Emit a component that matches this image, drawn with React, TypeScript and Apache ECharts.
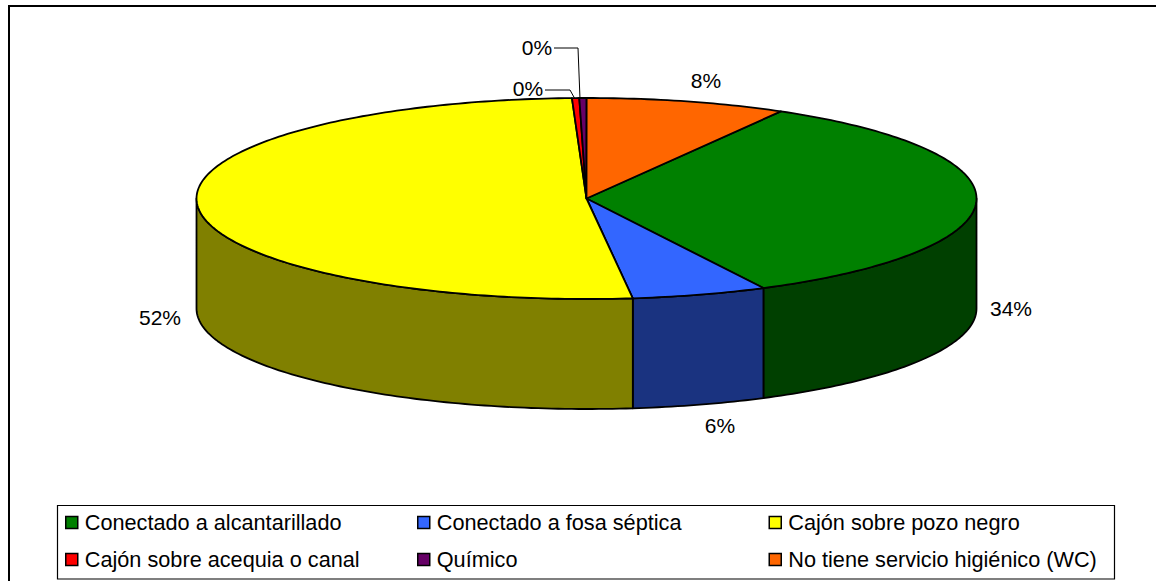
import React, { useEffect, useRef } from "react";
import * as echarts from "echarts";

const categories = [
  "Conectado a alcantarillado",
  "Conectado a fosa séptica",
  "Cajón sobre pozo negro",
  "Cajón sobre acequia o canal",
  "Químico",
  "No tiene servicio higiénico (WC)",
];
const shares = [34.2, 5.6, 51.3, 0.3, 0.3, 8.3];
const percentLabels = ["34%", "6%", "52%", "0%", "0%", "8%"];
const topColors = ["#008000", "#3366FF", "#FFFF00", "#FF0000", "#660066", "#FF6600"];
const sideColors = ["#004000", "#1A3380", "#808000", "#800000", "#330033", "#803300"];

const FAMILY = '"Liberation Sans", Arial, sans-serif';
const CX = 586.5;
const CY = 198.5;
const RX = 390;
const RY = 100.5;
const DEPTH = 110;
const FIRST_ANGLE = 29.9;

const labelSpots: number[][] = [
  [1011, 308],
  [720, 425],
  [160, 317],
  [528, 88],
  [537, 47],
  [706, 80],
];
const leaders: (number[][] | null)[] = [
  null,
  null,
  null,
  [[545, 90], [570, 90], [575, 99]],
  [[554, 48], [578, 48], [580, 99]],
  null,
];

const total = shares.reduce((a, b) => a + b, 0);

function rimPoint(deg: number, dy = 0): number[] {
  const r = (deg * Math.PI) / 180;
  return [CX + RX * Math.sin(r), CY - RY * Math.cos(r) + dy];
}

function arcPoints(a: number, b: number, dy = 0): number[][] {
  const pts: number[][] = [];
  const n = Math.max(2, Math.ceil(Math.abs(b - a)));
  for (let i = 0; i <= n; i++) pts.push(rimPoint(a + ((b - a) * i) / n, dy));
  return pts;
}

function renderSlice(index: number) {
  let start = FIRST_ANGLE;
  for (let i = 0; i < index; i++) start += (shares[i] / total) * 360;
  return (_params: any, api: any) => {
    const end = start + (api.value(0) / total) * 360;
    const children: any[] = [];
    const edge = { stroke: "#000", lineWidth: 1.8, lineJoin: "round" };
    const a = Math.max(start, 90);
    const b = Math.min(end, 270);
    if (b > a) {
      const wall = [...arcPoints(a, b), ...arcPoints(b, a, DEPTH)];
      children.push({
        type: "polygon",
        shape: { points: wall },
        style: { fill: sideColors[index], ...edge },
      });
    }
    children.push({
      type: "polygon",
      shape: { points: [[CX, CY], ...arcPoints(start, end)] },
      style: { fill: topColors[index], ...edge },
    });
    const lead = leaders[index];
    if (lead) {
      children.push({
        type: "polyline",
        shape: { points: lead },
        style: { fill: "none", stroke: "#000", lineWidth: 1 },
      });
    }
    const spot = labelSpots[index];
    children.push({
      type: "text",
      style: {
        text: percentLabels[index],
        x: spot[0],
        y: spot[1],
        align: "center",
        verticalAlign: "middle",
        fill: "#000",
        font: `21px ${FAMILY}`,
      },
    });
    return { type: "group", children };
  };
}

function legendColumn(names: string[], left: number) {
  return {
    orient: "vertical",
    left,
    top: 511.5,
    padding: 0,
    itemWidth: 12,
    itemHeight: 12,
    itemGap: 15,
    icon: "rect",
    selectedMode: false,
    data: names,
    itemStyle: { borderColor: "#000", borderWidth: 1.5 },
    textStyle: {
      fontFamily: FAMILY,
      fontSize: 21.7,
      color: "#000",
      padding: [0, 0, 0, 2],
    },
  };
}

export default function App() {
  const ref = useRef<HTMLDivElement>(null);
  useEffect(() => {
    const chart = echarts.init(ref.current!, undefined, { renderer: "svg" });
    chart.setOption({
      animation: false,
      backgroundColor: "#fff",
      legend: [
        legendColumn([categories[0], categories[3]], 65),
        legendColumn([categories[1], categories[4]], 417),
        legendColumn([categories[2], categories[5]], 768.5),
      ],
      graphic: [
        {
          type: "polyline",
          silent: true,
          z: -1,
          shape: { points: [[9, 581], [9, 6], [1156, 6]] },
          style: { fill: "none", stroke: "#000", lineWidth: 2 },
        },
        {
          type: "rect",
          silent: true,
          z: -1,
          shape: { x: 57.5, y: 505.5, width: 1057, height: 73.5 },
          style: { fill: "#fff", stroke: "#000", lineWidth: 1.2 },
        },
      ],
      series: categories.map((name, i) => ({
        type: "custom",
        name,
        coordinateSystem: "none",
        clip: false,
        silent: true,
        itemStyle: { color: topColors[i] },
        data: [[shares[i]]],
        renderItem: renderSlice(i),
      })),
    });
    return () => chart.dispose();
  }, []);
  return (
    <div
      ref={ref}
      style={{ position: "fixed", left: 0, top: 0, width: 1156, height: 581 }}
    />
  );
}
